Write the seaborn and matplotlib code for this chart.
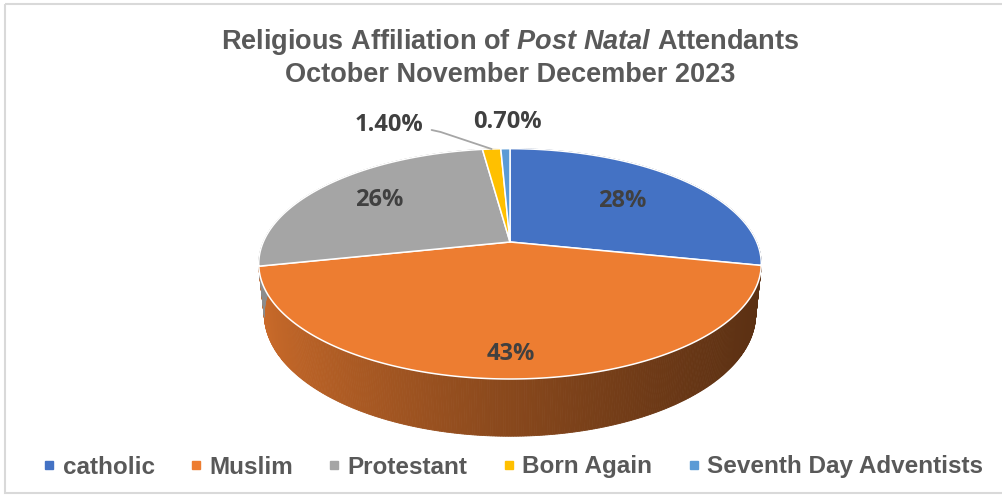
import numpy as np
import matplotlib
matplotlib.use("Agg")
import matplotlib.pyplot as plt
import seaborn as sns
from matplotlib.patches import Polygon, Rectangle
from matplotlib.lines import Line2D
from matplotlib.font_manager import FontProperties

# ---- data -------------------------------------------------------------
categories = ["catholic", "Muslim", "Protestant", "Born Again", "Seventh Day Adventists"]
shares = [28, 43, 26, 1.4, 0.7]
pct_labels = ["28%", "43%", "26%", "1.40%", "0.70%"]
title_lines = [r"Religious Affiliation of $\mathit{Post\ Natal}$ Attendants",
               "October November December 2023"]
hex_colors = ["#4472C4", "#ED7D31", "#A5A5A5", "#FFC000", "#5B9BD5"]

# ---- style ------------------------------------------------------------
sns.set_theme(style="white")
plt.rcParams["font.family"] = ["Liberation Sans", "DejaVu Sans"]
plt.rcParams["mathtext.fontset"] = "custom"
plt.rcParams["mathtext.rm"] = "Liberation Sans:bold"
plt.rcParams["mathtext.it"] = "Liberation Sans:italic:bold"
palette = sns.color_palette(hex_colors)

W, H = 1002, 496
fig = plt.figure(figsize=(W / 100, H / 100), dpi=100)
ax = fig.add_axes([0, 0, 1, 1])
ax.set_xlim(0, W)
ax.set_ylim(H, 0)
ax.axis("off")

# slice angles come from matplotlib's own pie layout
helper = fig.add_axes([0, 0, 0.01, 0.01])
wedges, _ = helper.pie(shares, startangle=90, counterclock=False)
spans = [(w.theta1, w.theta2) for w in wedges]
helper.remove()

# ---- perspective projection of a tilted disc --------------------------
SIN_T = 0.45
COS_T = np.sqrt(1 - SIN_T ** 2)
DIST = 4.71
FOCAL = 1162.0
THICK = 0.23
CX, CY = 510.0, 242.0


def project(r, theta_deg, z):
    th = np.radians(theta_deg)
    u = r * np.cos(th)
    v = -r * np.sin(th)          # positive toward the viewer
    yy = v * SIN_T - z * COS_T
    d = DIST - v * COS_T - z * SIN_T
    return CX + FOCAL * u / d, CY + FOCAL * yy / d


x_left = project(1, 180, 0)[0]
x_right = project(1, 0, 0)[0]


def shade(color, x):
    t = np.clip((x - x_left) / (x_right - x_left), 0, 1)
    f = 0.85 - 0.46 * t ** 0.75
    return tuple(np.clip(np.array(color) * f, 0, 1))


# side wall, drawn in thin strips to give the lighting gradient
for (t1, t2), col in zip(spans, palette):
    n = max(2, int(abs(t2 - t1) / 0.5))
    th = np.linspace(t1, t2, n + 1)
    for a, b in zip(th[:-1], th[1:]):
        xa, ya = project(1, a, 0)
        xb, yb = project(1, b, 0)
        xa2, ya2 = project(1, a, -THICK)
        xb2, yb2 = project(1, b, -THICK)
        c = shade(col, 0.5 * (xa + xb))
        ax.add_patch(Polygon([(xa, ya), (xb, yb), (xb2, yb2), (xa2, ya2)],
                             closed=True, facecolor=c, edgecolor=c, lw=0.6))

# top face
for (t1, t2), col in zip(spans, palette):
    th = np.linspace(t1, t2, max(3, int(abs(t2 - t1) * 2)))
    xs, ys = project(1, th, 0)
    pts = [project(0, 0, 0)] + list(zip(xs, ys))
    ax.add_patch(Polygon(pts, closed=True, facecolor=col,
                         edgecolor="#FFFFFF", lw=1.1, joinstyle="round"))

# ---- data labels ------------------------------------------------------
label_font = dict(family=["Open Sans", "DejaVu Sans"], weight="bold", fontsize=17,
                  color="#404040", ha="center", va="center")
inner_radius = [0.63, 0.85, 0.70]
for (t1, t2), txt, r in zip(spans[:3], pct_labels[:3], inner_radius):
    lx, ly = project(r, 0.5 * (t1 + t2), 0)
    ax.text(lx, ly, txt, **label_font)

# small slices are labelled outside the disc
ba_mid = 0.5 * (spans[3][0] + spans[3][1])
ex, ey = project(1, ba_mid, 0)
ax.text(ex - 103, ey - 24, pct_labels[3], **label_font)
ax.plot([ex - 60, ex - 51, ex], [ey - 19, ey - 17, ey], color="#A6A6A6", lw=1.3)
sda_mid = 0.5 * (spans[4][0] + spans[4][1])
sx, sy = project(1, sda_mid, 0)
ax.text(sx + 2, sy - 27, pct_labels[4], **label_font)

# ---- title ------------------------------------------------------------
title_font = dict(fontsize=19.5, color="#595959", ha="center", va="center",
                  fontweight="bold")
ax.text(510, 42, title_lines[0], **title_font)
ax.text(510, 75, title_lines[1], **title_font)

# ---- legend -----------------------------------------------------------
handles = [Line2D([], [], marker="s", ls="", color=c, markersize=5.5) for c in palette]
ax.legend(handles, categories, loc="center", bbox_to_anchor=(513 / W, 1 - 467 / H),
          ncol=5, frameon=False, handlelength=0.5, handletextpad=0.3,
          columnspacing=1.45, labelcolor="#595959",
          prop=FontProperties(family="Liberation Sans", weight="bold", size=17.5))

# chart frame
ax.add_patch(Rectangle((5, 3.5), 1010, 489.5, fill=False, edgecolor="#D9D9D9",
                       lw=1.5, clip_on=False))

fig.savefig("out.png", dpi=100)
